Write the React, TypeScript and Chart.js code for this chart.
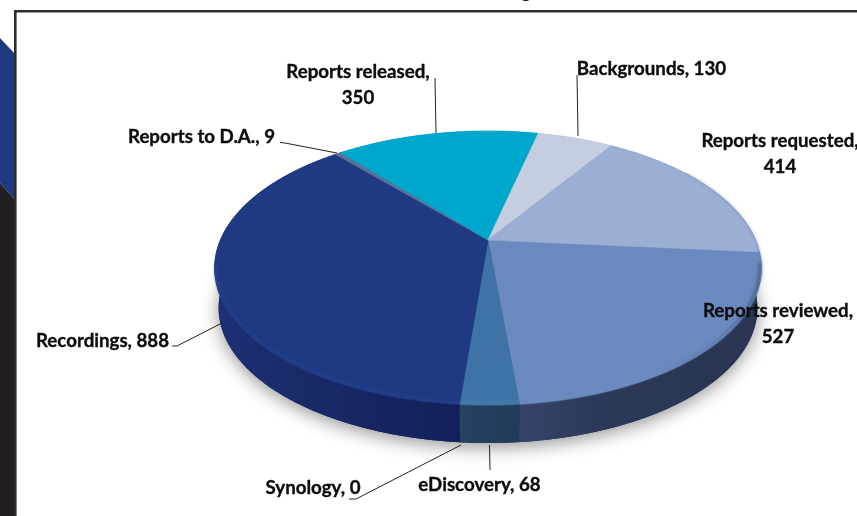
import React, { useEffect, useRef } from "react";
import { Chart, registerables } from "chart.js";

Chart.register(...registerables);

const categories = [
  "Reports reviewed",
  "eDiscovery",
  "Synology",
  "Recordings",
  "Reports to D.A.",
  "Reports released",
  "Backgrounds",
  "Reports requested",
];
const counts = [527, 68, 0, 888, 9, 350, 130, 414];
const topColors = ["#6a89bf", "#3f72a6", "#3a5f95", "#1f3a83", "#5c7099", "#00a7cc", "#c5cde0", "#9bafd5"];
const wallColorsLeft = ["#36446a", "#26425f", "#26425f", "#1d3075", "#1d3075", "#0a7d98", "#8c94a8", "#6f80a0"];
const wallColorsMid = ["#2c3958", "#234060", "#234060", "#1a2b6a", "#1a2b6a", "#0a7d98", "#8c94a8", "#55658a"];
const wallColorsRight = ["#293552", "#213c5a", "#213c5a", "#13205a", "#13205a", "#0a7d98", "#8c94a8", "#3c4a66"];
const rimColors = ["#6f8dc1", "#4c7fb1", "#4f7fb0", "#26438f", "#26438f", "#33bbdb", "#d5dbe9", "#8095bd"];

const labelTexts: string[][] = [
  ["Reports reviewed,", "527"],
  ["eDiscovery, 68"],
  ["Synology, 0"],
  ["Recordings, 888"],
  ["Reports to D.A., 9"],
  ["Reports released,", "350"],
  ["Backgrounds, 130"],
  ["Reports requested,", "414"],
];
const labelAnchors = [
  [778, 311], [479.5, 485], [313, 488], [102.5, 341], [201.5, 137], [358, 72], [651.5, 69], [780, 141],
];
const leaders: number[][][] = [
  [],
  [[489.5, 445], [490, 470]],
  [[349, 499], [356, 499], [461, 445]],
  [[172, 346], [177, 346], [222, 323]],
  [[280, 142.5], [285, 143], [337, 153]],
  [[435, 78], [436, 133]],
  [[577, 75], [578, 136]],
  [],
];

const APEX_X = 488;
const APEX_Y = 240;
const SCALE_X = 267.7;
const SCALE_Y = 131.3;
const TILT = -0.2045;
const MID_Y = 268;
const BOTTOM_SHRINK = 0.985;
const DEPTH = 40;

function top(angle: number): [number, number] {
  const u = Math.cos(angle);
  const v = Math.sin(angle);
  const w = 1 + TILT * v;
  return [APEX_X + (SCALE_X * u) / w, APEX_Y + (SCALE_Y * v) / w];
}
function bottom(angle: number): [number, number] {
  const [x, y] = top(angle);
  return [APEX_X + (x - APEX_X) * BOTTOM_SHRINK, MID_Y + (y - MID_Y) * BOTTOM_SHRINK + DEPTH];
}
function samples(a0: number, a1: number): number[] {
  const n = Math.max(2, Math.ceil((a1 - a0) / 0.01));
  const out: number[] = [];
  for (let i = 0; i <= n; i++) out.push(a0 + ((a1 - a0) * i) / n);
  return out;
}
function facePath(ctx: any, a0: number, a1: number) {
  ctx.beginPath();
  ctx.moveTo(APEX_X, APEX_Y);
  samples(a0, a1).forEach((a) => {
    const [x, y] = top(a);
    ctx.lineTo(x, y);
  });
  ctx.closePath();
}

const pie3d = {
  id: "pie3d",
  beforeDraw(chart: any) {
    const { ctx, width, height } = chart;
    ctx.save();
    ctx.fillStyle = "#ffffff";
    ctx.fillRect(0, 0, width, height);
    ctx.fillStyle = "#1f3a80";
    ctx.beginPath();
    ctx.moveTo(0, 38); ctx.lineTo(15, 54); ctx.lineTo(15, 200); ctx.lineTo(0, 183);
    ctx.closePath();
    ctx.fill();
    ctx.fillStyle = "#231f20";
    ctx.beginPath();
    ctx.moveTo(0, 183); ctx.lineTo(15, 200); ctx.lineTo(15, height); ctx.lineTo(0, height);
    ctx.closePath();
    ctx.fill();
    ctx.strokeStyle = "#2e2c2d";
    ctx.lineWidth = 2.6;
    ctx.beginPath();
    ctx.moveTo(15.3, height); ctx.lineTo(15.3, 11.3); ctx.lineTo(width, 11.3);
    ctx.stroke();
    ctx.fillStyle = "#111111";
    ctx.font = "bold 18.7px Lato";
    ctx.textAlign = "center";
    ctx.textBaseline = "alphabetic";
    ctx.fillText("g", 526, -2);
    ctx.restore();
  },
  beforeDatasetDraw(chart: any) {
    const { ctx } = chart;
    const arcs = chart.getDatasetMeta(0).data as any[];
    ctx.save();

    // ground shadow
    ctx.save();
    ctx.shadowColor = "rgba(0,0,0,0.42)";
    ctx.shadowBlur = 18;
    ctx.shadowOffsetY = 4;
    ctx.fillStyle = "#1a2a5a";
    ctx.beginPath();
    samples(0, Math.PI * 2).forEach((a, i) => {
      const [x, y] = bottom(a);
      if (i) ctx.lineTo(x, y); else ctx.moveTo(x, y);
    });
    ctx.closePath();
    ctx.fill();
    ctx.restore();

    // side walls
    arcs.forEach((arc, i) => {
      if (arc.endAngle - arc.startAngle <= 0) return;
      const pts = samples(arc.startAngle, arc.endAngle);
      const xs = pts.map((a) => top(a)[0]);
      const g = ctx.createLinearGradient(Math.min(...xs), 0, Math.max(...xs) + 1, 0);
      g.addColorStop(0, wallColorsLeft[i]);
      g.addColorStop(0.3, wallColorsMid[i]);
      g.addColorStop(1, wallColorsRight[i]);
      ctx.fillStyle = g;
      ctx.beginPath();
      pts.forEach((a, k) => {
        const [x, y] = top(a);
        if (k) ctx.lineTo(x, y); else ctx.moveTo(x, y);
      });
      pts.slice().reverse().forEach((a) => {
        const [x, y] = bottom(a);
        ctx.lineTo(x, y);
      });
      ctx.closePath();
      ctx.fill();
    });

    // top face
    arcs.forEach((arc) => {
      if (arc.endAngle - arc.startAngle <= 0) return;
      ctx.fillStyle = arc.options.backgroundColor;
      ctx.strokeStyle = arc.options.backgroundColor;
      ctx.lineWidth = 0.7;
      facePath(ctx, arc.startAngle, arc.endAngle);
      ctx.fill();
      ctx.stroke();
    });
    // thin slice on top of its neighbours' seams
    arcs.forEach((arc) => {
      const span = arc.endAngle - arc.startAngle;
      if (span <= 0 || span > 0.05) return;
      ctx.fillStyle = arc.options.backgroundColor;
      facePath(ctx, arc.startAngle, arc.endAngle);
      ctx.fill();
    });

    // soft bevel along the front rim
    ctx.save();
    ctx.filter = "blur(1.4px)";
    ctx.lineWidth = 2;
    arcs.forEach((arc, i) => {
      if (arc.endAngle - arc.startAngle <= 0) return;
      const g = ctx.createLinearGradient(250, 0, 760, 0);
      g.addColorStop(0, rimColors[i]);
      g.addColorStop(0.78, rimColors[i]);
      g.addColorStop(0.93, "#56709f");
      g.addColorStop(1, "#3a4a6c");
      ctx.strokeStyle = g;
      ctx.beginPath();
      let open = false;
      samples(arc.startAngle, arc.endAngle).forEach((a) => {
        if (Math.sin(a) < 0.16) { open = false; return; }
        const [x, y] = top(a);
        const nx = x + (APEX_X - x) * 0.006;
        const ny = y + (APEX_Y - y) * 0.012;
        if (open) ctx.lineTo(nx, ny); else ctx.moveTo(nx, ny);
        open = true;
      });
      ctx.stroke();
    });
    // dim edge at the far right of the face
    ctx.lineWidth = 1;
    ctx.strokeStyle = "#6c7fa5";
    ctx.beginPath();
    samples(-0.6, 0.3).forEach((a, k) => {
      const [x, y] = top(a);
      if (k) ctx.lineTo(x, y); else ctx.moveTo(x, y);
    });
    ctx.stroke();
    ctx.restore();

    ctx.restore();
    return false;
  },
  afterDatasetsDraw(chart: any) {
    const { ctx } = chart;
    ctx.save();
    ctx.strokeStyle = "#222222";
    ctx.lineWidth = 1;
    leaders.forEach((line) => {
      if (!line.length) return;
      ctx.beginPath();
      line.forEach(([x, y], k) => (k ? ctx.lineTo(x, y) : ctx.moveTo(x, y)));
      ctx.stroke();
    });
    ctx.fillStyle = "#0d0d0d";
    ctx.strokeStyle = "#0d0d0d";
    ctx.lineWidth = 0.35;
    ctx.font = "bold 18.7px Lato";
    ctx.textAlign = "center";
    ctx.textBaseline = "middle";
    labelTexts.forEach((lines, i) => {
      const [x, y] = labelAnchors[i];
      lines.forEach((t, k) => {
        ctx.fillText(t, x, y + k * 26);
        ctx.strokeText(t, x, y + k * 26);
      });
    });
    ctx.restore();
  },
};

export default function App() {
  const ref = useRef<HTMLCanvasElement>(null);
  useEffect(() => {
    const chart = new Chart(ref.current as HTMLCanvasElement, {
      type: "pie",
      data: {
        labels: categories,
        datasets: [{ data: counts, backgroundColor: topColors, borderWidth: 0 }],
      },
      options: {
        responsive: false,
        animation: false,
        rotation: 95.1,
        plugins: { legend: { display: false }, tooltip: { enabled: false } },
      },
      plugins: [pie3d],
    } as any);
    return () => chart.destroy();
  }, []);
  return (
    <canvas
      ref={ref}
      width={857}
      height={516}
      style={{ position: "fixed", left: 0, top: 0, width: 857, height: 516, display: "block" }}
    />
  );
}
